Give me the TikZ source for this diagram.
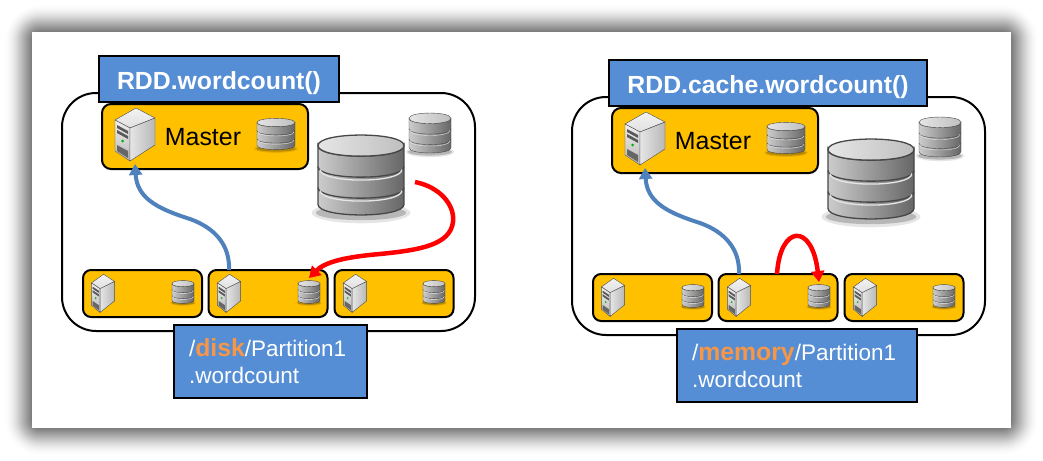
\documentclass[tikz,border=0pt]{standalone}
\usepackage{fontspec}
\setmainfont{Liberation Sans}
\usepackage{xcolor}
\usepackage{tikz}
\usetikzlibrary{arrows.meta,positioning}
\definecolor{myblue}{RGB}{85,142,213}
\definecolor{mygold}{RGB}{255,192,0}
\definecolor{myorange}{RGB}{247,150,70}
\definecolor{myline}{RGB}{79,129,189}
\definecolor{myred}{RGB}{255,0,0}
\newcommand{\hotword}[1]{\textcolor{myorange}{\fontsize{24.8}{27}\selectfont\bfseries #1}}
\tikzset{
  panelbox/.style={draw=black, line width=2pt, fill=white, rounded corners=34pt,
    minimum width=413pt, minimum height=238pt, inner sep=0pt},
  titlebox/.style={draw=black, line width=2pt, fill=myblue, text=white, inner sep=0pt,
    minimum height=46pt, text height=22pt, text depth=2pt,
    font=\fontsize{24.8}{28}\selectfont\bfseries},
  infobox/.style={draw=black, line width=2pt, fill=myblue, text=white, align=left,
    inner xsep=15pt, inner ysep=0pt, minimum height=73pt,
    font=\fontsize{22.5}{27}\selectfont},
  masterbox/.style={draw=black, line width=2pt, fill=mygold, rounded corners=9pt,
    minimum width=206pt, minimum height=65pt, inner sep=0pt},
  workerbox/.style={draw=black, line width=2pt, fill=mygold, rounded corners=8pt,
    minimum width=119pt, minimum height=47pt, inner sep=0pt},
  iconbox/.style={inner sep=0pt, outer sep=0pt},
  mastertext/.style={inner sep=0pt, font=\fontsize{24.9}{28}\selectfont},
  blueline/.style={myline, line width=4pt, -{Triangle[length=11pt,width=13pt]}},
  redline/.style={myred, line width=4.5pt, -{Triangle[length=11pt,width=13pt]}},
  pics/serverpic/.style={code={
    \draw[black!70, top color=black!5, bottom color=black!12]
      (1,-26) -- (20,-16) -- (-5,-6) -- (-20,-14) -- cycle;
    \draw[black!70, top color=black!6, bottom color=black!28]
      (-20,-14) -- (-5,-6) -- (-5,27) -- (-20,17) -- cycle;
    \draw[black!70, left color=black!10, right color=black!28]
      (-5,-6) -- (20,-16) -- (20,11) -- (-5,27) -- cycle;
    \fill[black!65] (-18,-9) -- (-7,-3) -- (-7,0) -- (-18,-6) -- cycle;
    \fill[black!65] (-18,-4) -- (-7,2) -- (-7,5) -- (-18,-1) -- cycle;
    \fill[black!60] (-18,11) -- (-7,17) -- (-7,24) -- (-18,17) -- cycle;
    \fill[green!70!black] (-12.5,7) circle[radius=1.5];
  }},
  pics/diskpic/.style={code={
    \fill[black, opacity=.1] (0,18) ellipse[x radius=23, y radius=5];
    \fill[black, opacity=.2] (0,18) ellipse[x radius=21, y radius=3.5];
    \draw[black!72, left color=black!20, right color=black!60]
      (-20,-14) -- (-20,14) .. controls (-20,20.7) and (20,20.7) .. (20,14) -- (20,-14)
      .. controls (20,-7.3) and (-20,-7.3) .. (-20,-14) -- cycle;
    \foreach \sy in {-4,6}{
      \draw[black!72] (-20,\sy) .. controls (-20,\sy+6.7) and (20,\sy+6.7) .. (20,\sy);
      \draw[black!10] (-19,\sy+1.4) .. controls (-19,\sy+8.1) and (19,\sy+8.1) .. (19,\sy+1.4);
    }
    \draw[black!72, left color=black!10, right color=black!25]
      (-20,-14) .. controls (-20,-20.7) and (20,-20.7) .. (20,-14)
      .. controls (20,-7.3) and (-20,-7.3) .. (-20,-14) -- cycle;
  }}
}
\begin{document}
\begin{tikzpicture}[x=1pt, y=-1pt]
  \useasboundingbox (0,0) rectangle (1043,460);
  \fill[white] (0,0) rectangle (1043,460);
  % Shadow and sheet
  \foreach \e [evaluate=\e as \r using \e+8, evaluate=\e as \o using .0016*(29-\e)] in {28,27,...,1}{
    \fill[black, opacity=\o, rounded corners=\r pt]
      (32-\e,32-\e) rectangle (1011+\e,428+\e);
  }
  \fill[white] (32,32) rectangle (1011,428);
  % Both clusters
  \foreach \dx/\dy/\tag in {0/0/l, 510/4/r}{
    \node[panelbox] (panel\tag) at (\dx+268.5, \dy+212) {};
    \node[masterbox] (master\tag) at (\dx+205, \dy+136.5) {};
    \node[iconbox, minimum width=40pt, minimum height=60pt] (srvm\tag) at (\dx+135, \dy+134) {};
    \pic at (srvm\tag) {serverpic};
    \node[mastertext] (mtext\tag) at (\dx+203, \dy+137.5) {Master};
    \node[iconbox, minimum width=38pt, minimum height=33pt] (dskm\tag) at (\dx+276, \dy+134) {};
    \pic[xscale=.95, yscale=.82] at (dskm\tag) {diskpic};
    % Workers
    \foreach \n/\bx/\sx/\ax in {1/142.5/103/183, 2/268/229/309, 3/394/355/434}{
      \node[workerbox] (worker\tag\n) at (\dx+\bx, \dy+293.5) {};
      \node[iconbox, minimum width=24pt, minimum height=46pt] (srvw\tag\n) at (\dx+\sx, \dy+293) {};
      \pic[xscale=.58, yscale=.72] at (srvw\tag\n) {serverpic};
      \node[iconbox, minimum width=22pt, minimum height=28pt] (dskw\tag\n) at (\dx+\ax, \dy+292) {};
      \pic[xscale=.55, yscale=.6] at (dskw\tag\n) {diskpic};
    }
    % Storage
    \node[iconbox, minimum width=86pt, minimum height=85pt] (bigdsk\tag) at (\dx+361, \dy+175) {};
    \pic[xscale=2.15, yscale=2.1, line width=1.3pt] at (bigdsk\tag) {diskpic};
    \node[iconbox, minimum width=42pt, minimum height=42pt] (smalldsk\tag) at (\dx+430, \dy+133) {};
    \pic[xscale=1.05, yscale=1.05] at (smalldsk\tag) {diskpic};
    % Report arrow
    \draw[blueline] (srvw\tag2.north) .. controls (\dx+230,\dy+245) and (\dx+215,\dy+228) ..
      (\dx+190,\dy+219) .. controls (\dx+155,\dy+208) and (\dx+137,\dy+197) .. (srvm\tag.south);
  }
  % Titles
  \node[titlebox, minimum width=240pt] (titlel) at (219, 79) {RDD.wordcount()\hspace{5pt}};
  \node[titlebox, minimum width=318pt] (titler) at (768, 83) {RDD.cache.wordcount()\hspace{2pt}};
  % Partition boxes
  \node[infobox, text width=163pt] (infol) at (270.5, 361.5)
    {/\hotword{disk}/Partition1\\.wordcount};
  \node[infobox, text width=210pt] (infor) at (797, 365.5)
    {/\hotword{memory}/Partition1\\.wordcount};
  % Red arrows
  \coordinate (redstartl) at (415,182);
  \coordinate (redstartr) at (777,274);
  \draw[redline] (redstartl) .. controls (440,187) and (455,205) .. (453,222)
    .. controls (450,245) and (420,250) .. (380,254)
    .. controls (345,257) and (325,262) .. (dskwl2.north);
  \draw[redline] (redstartr) .. controls (780,225) and (812,222) .. (dskwr2.north);
\end{tikzpicture}
\end{document}
